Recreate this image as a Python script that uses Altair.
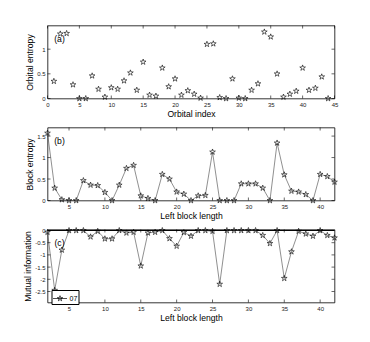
import altair as alt
import pandas as pd

# ---------------- data ----------------
orb_idx = list(range(1, 45))
orb_entropy = [0.35, 1.31, 1.32, 0.28, 0.0, 0.0, 0.46, 0.19, 0.03, 0.22,
               0.19, 0.36, 0.52, 0.17, 0.74, 0.07, 0.05, 0.62, 0.24, 0.40,
               0.07, 0.16, 0.09, 0.01, 1.10, 1.11, 0.02, 0.0, 0.40, 0.01,
               0.0, 0.17, 0.30, 1.35, 1.25, 0.50, 0.03, 0.09, 0.15, 0.62,
               0.17, 0.21, 0.44, 0.0]

block_len = list(range(2, 43))
block_entropy = [1.57, 0.29, 0.02, 0.0, 0.0, 0.465, 0.36, 0.35, 0.19, 0.0,
                 0.36, 0.75, 0.82, 0.11, 0.05, 0.0, 0.61, 0.50, 0.20, 0.15,
                 0.0, 0.11, 0.12, 1.13, 0.0, 0.0, 0.0, 0.39, 0.39, 0.39,
                 0.29, 0.0, 1.34, 0.60, 0.22, 0.20, 0.14, 0.0, 0.61, 0.56,
                 0.43]
mutual_info = [-0.07, -2.45, -0.80, 0.0, 0.0, 0.0, -0.26, -0.03, -0.34, -0.34,
               0.0, -0.10, -0.07, -1.45, -0.10, -0.07, 0.0, -0.33, -0.64, -0.08,
               -0.23, 0.0, 0.0, -0.03, -2.20, 0.0, 0.0, 0.0, 0.0, 0.0,
               -0.20, -0.53, 0.0, -1.96, -0.87, -0.03, -0.14, -0.23, 0.0, -0.20,
               -0.30]
series_name = "07"

xticks_a = [0, 5, 10, 15, 20, 25, 30, 35, 40, 45]
yticks_a = [0, 0.5, 1]
xticks_bc = [5, 10, 15, 20, 25, 30, 35, 40]
yticks_b = [0, 0.5, 1, 1.5]
yticks_c = [0, -0.5, -1, -1.5, -2, -2.5]

# ---------------- style ----------------
W, H = 287, 73
FONT = "Liberation Sans"
STAR = ("M0,-1L0.225,-0.309L0.951,-0.309L0.363,0.118L0.588,0.809L0,0.382"
        "L-0.588,0.809L-0.363,0.118L-0.951,-0.309L-0.225,-0.309Z")
LEG_SYM = ("M-1,0L1,0M0,-0.4L0.09,-0.124L0.38,-0.124L0.145,0.047L0.235,0.324"
           "L0,0.153L-0.235,0.324L-0.145,0.047L-0.38,-0.124L-0.09,-0.124Z")
TK = 3

df_a = pd.DataFrame({"x": orb_idx, "y": orb_entropy})
df_b = pd.DataFrame({"x": block_len, "y": block_entropy})
df_c = pd.DataFrame({"x": block_len, "y": mutual_info, "s": [series_name] * len(block_len)})


def axis(values, title):
    return alt.Axis(values=values, title=title, ticks=False, domain=False, grid=False,
                    labelExpr="'' + datum.value", labelFont=FONT, labelFontSize=6,
                    labelColor="#222222", labelPadding=2.5, titleFont=FONT,
                    titleFontSize=8.6, titleFontWeight="normal", titleColor="black",
                    titlePadding=2.5, labelFlush=False, labelOverlap=False)


def panel(xs, ys, xticks, yticks, xtitle, ytitle, layers_fn, tag):
    xa = axis(xticks, xtitle)
    ya = axis(yticks, ytitle)
    X = lambda f: alt.X(f, scale=xs, axis=xa, title=xtitle)
    Y = lambda f: alt.Y(f, scale=ys, axis=ya, title=ytitle)
    dx = pd.DataFrame({"v": xticks})
    dy = pd.DataFrame({"v": yticks})
    rx = alt.Chart(dx).mark_rule(color="black", strokeWidth=0.6)
    ry = alt.Chart(dy).mark_rule(color="black", strokeWidth=0.6)
    ticks = [
        rx.encode(x=X("v:Q"), y=alt.value(H), y2=alt.value(H - TK)),
        rx.encode(x=X("v:Q"), y=alt.value(0), y2=alt.value(TK)),
        ry.encode(y=Y("v:Q"), x=alt.value(0), x2=alt.value(TK)),
        ry.encode(y=Y("v:Q"), x=alt.value(W), x2=alt.value(W - TK)),
    ]
    lab = alt.Chart(pd.DataFrame({"t": [tag]})).mark_text(
        font=FONT, fontSize=8.6, color="black", align="center", baseline="middle"
    ).encode(text="t:N", x=alt.value(12), y=alt.value(13.5))
    return alt.layer(*layers_fn(X, Y), *ticks, lab).properties(width=W, height=H)


def star(df, X, Y, **extra):
    return alt.Chart(df).mark_point(shape=STAR, filled=False, stroke="black",
                                    strokeWidth=0.6, size=36, opacity=1).encode(
        x=X("x:Q"), y=Y("y:Q"), **extra)


def line(df, X, Y):
    return alt.Chart(df).mark_line(color="#444444", strokeWidth=0.6).encode(x=X("x:Q"), y=Y("y:Q"))


# ---------------- panel a ----------------
panel_a = panel(alt.Scale(domain=[0, 45], nice=False, zero=False),
                alt.Scale(domain=[0, 1.48], nice=False),
                xticks_a, yticks_a, "Orbital index", "Orbital entropy",
                lambda X, Y: [star(df_a, X, Y)], "(a)")

# ---------------- panel b ----------------
panel_b = panel(alt.Scale(domain=[2, 42], nice=False, zero=False),
                alt.Scale(domain=[0, 1.7], nice=False),
                xticks_bc, yticks_b, "Left block length", "Block entropy",
                lambda X, Y: [line(df_b, X, Y), star(df_b, X, Y)], "(b)")

# ---------------- panel c ----------------
leg = alt.Legend(title=None, orient="none", legendX=4, legendY=60.5,
                 symbolType=LEG_SYM, symbolSize=196,
                 symbolStrokeWidth=0.7, symbolStrokeColor="black",
                 strokeColor="black", fillColor="white",
                 padding=1, labelFont=FONT, labelFontSize=7,
                 labelColor="black", labelOffset=2, cornerRadius=0)


def layers_c(X, Y):
    zero = alt.Chart(pd.DataFrame({"y": [0.0]})).mark_rule(color="black", strokeWidth=1).encode(y=Y("y:Q"))
    return [zero, line(df_c, X, Y),
            star(df_c, X, Y, color=alt.Color("s:N", scale=alt.Scale(range=["black"]), legend=leg))]


panel_c = panel(alt.Scale(domain=[2, 42], nice=False, zero=False),
                alt.Scale(domain=[-2.95, 0.04], nice=False, zero=False),
                xticks_bc, yticks_c, "Left block length", "Mutual information",
                layers_c, "(c)")

chart = alt.vconcat(panel_a, panel_b, panel_c, spacing=29, bounds="flush").resolve_scale(
    x="independent", y="independent", color="independent"
).properties(
    padding={"left": 14.5, "top": 16.5, "right": 5, "bottom": 5},
    background="white",
).configure_view(stroke="black", strokeWidth=0.8)

chart.save("out.html", embed_options={"renderer": "svg", "actions": False})
